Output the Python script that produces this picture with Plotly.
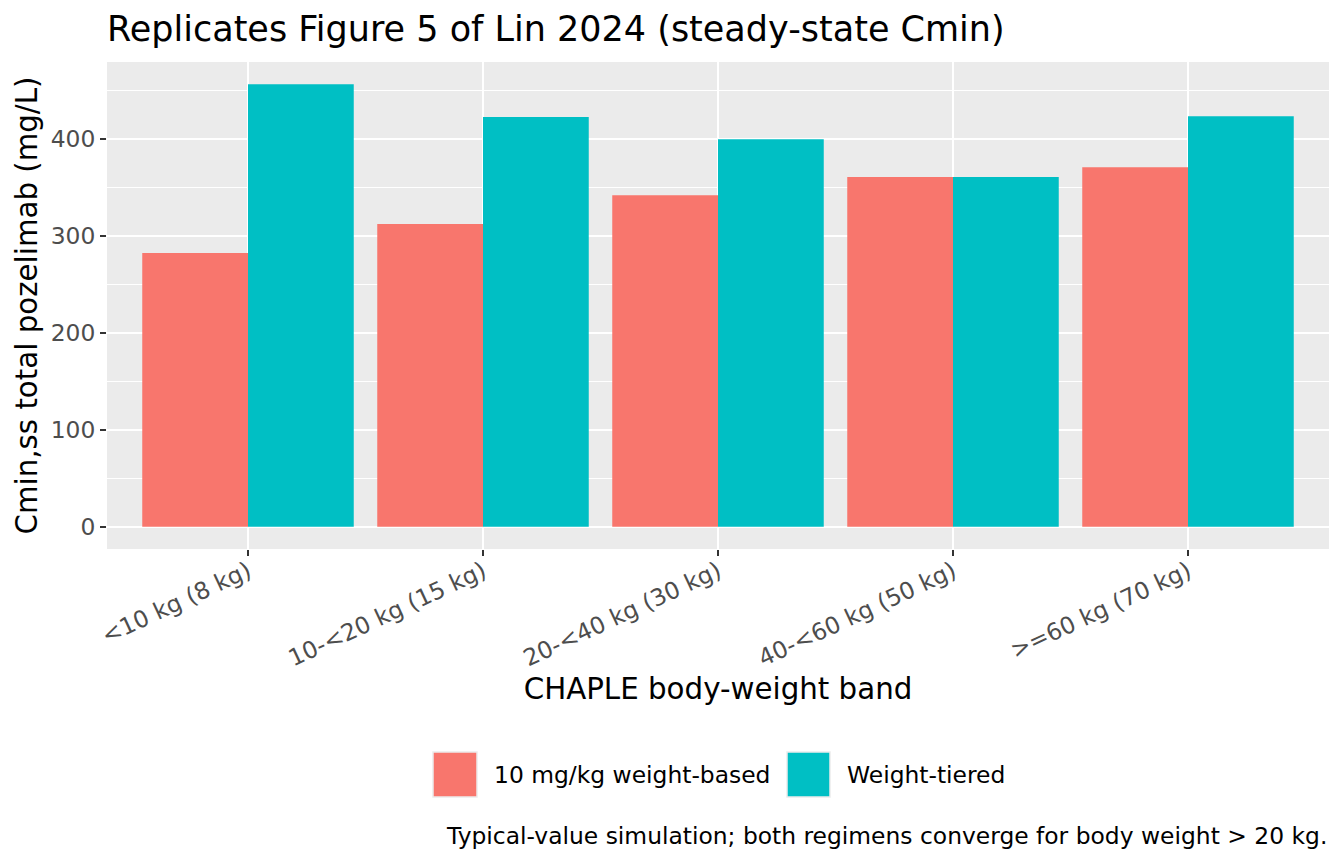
import plotly.graph_objects as go

categories = ["<10 kg (8 kg)", "10-<20 kg (15 kg)", "20-<40 kg (30 kg)", "40-<60 kg (50 kg)", ">=60 kg (70 kg)"]
series_names = ["10 mg/kg weight-based", "Weight-tiered"]
weight_based = [282.5, 312.2, 342.0, 360.7, 370.8]
weight_tiered = [456.5, 422.5, 399.7, 360.7, 423.5]
colors = ["#F8766D", "#00BFC4"]

W, H = 1344, 864
OFF = 8  # page body margin offset
L, R, T, B = 107 - OFF, 1329 - OFF, 62 - OFF, 549 - OFF

def px(x):
    return (x - OFF - L) / (R - L)

def py(y):
    return (B - (y - OFF)) / (B - T)

font_family = "DejaVu Sans"
TICK_FS = 23.4
AXT_FS = 29.3
TITLE_FS = 35

fig = go.Figure()
for name, vals, col in zip(series_names, [weight_based, weight_tiered], colors):
    fig.add_trace(go.Bar(x=categories, y=vals, name=name, marker=dict(color=col, line=dict(width=0)),
                         showlegend=False))

ymax = max(weight_based + weight_tiered)
pad = ymax * 0.05

fig.update_layout(
    width=W, height=H,
    margin=dict(l=L, r=W - R, t=T, b=H - B, pad=0),
    paper_bgcolor="white",
    plot_bgcolor="#EBEBEB",
    barmode="group", bargap=0.1, bargroupgap=0,
    font=dict(family=font_family, color="#000000"),
    title=dict(text="Replicates Figure 5 of Lin 2024 (steady-state Cmin)", x=0, xref="paper",
               xanchor="left", y=1 - (29 - OFF) / H, yref="container", yanchor="middle",
               font=dict(size=TITLE_FS, color="#000000", family=font_family)),
    xaxis=dict(type="category", range=[-0.6, 4.6], showgrid=True, gridcolor="white", gridwidth=2.2,
               ticks="outside", ticklen=6, tickwidth=2.2, tickcolor="#333333", tickangle=-25,
               ticklabelstandoff=-7,
               tickfont=dict(size=TICK_FS, color="#4D4D4D"), zeroline=False,
               title=dict(text="CHAPLE body-weight band", font=dict(size=AXT_FS, color="#000000"), standoff=2)),
    yaxis=dict(range=[-pad, ymax + pad], dtick=100, tick0=0, showgrid=True, gridcolor="white", gridwidth=2.2,
               minor=dict(dtick=50, showgrid=True, gridcolor="white", gridwidth=1.1),
               ticks="outside", ticklen=6, tickwidth=2.2, tickcolor="#333333",
               tickfont=dict(size=TICK_FS, color="#4D4D4D"), zeroline=False,
               title=dict(text="Cmin,ss total pozelimab (mg/L)", font=dict(size=AXT_FS, color="#000000"), standoff=4)),
)

# Legend (drawn manually to match ggplot key boxes)
shapes = []
annotations = []
keys = [(433, 477, series_names[0], colors[0]), (787, 830, series_names[1], colors[1])]
for x0, x1, label, col in keys:
    shapes.append(dict(type="rect", xref="paper", yref="paper", x0=px(x0), x1=px(x1), y0=py(797), y1=py(752),
                       fillcolor=col, line=dict(color="#EBEBEB", width=1.5), layer="above"))
    annotations.append(dict(text=label, xref="paper", yref="paper", x=px(x1 + 15), y=py(775),
                            xanchor="left", yanchor="middle", showarrow=False,
                            font=dict(size=TICK_FS, color="#000000", family=font_family)))

annotations.append(dict(text="Typical-value simulation; both regimens converge for body weight > 20 kg.",
                        xref="paper", yref="paper", x=px(1329), y=py(836), xanchor="right", yanchor="middle",
                        showarrow=False, font=dict(size=TICK_FS, color="#000000", family=font_family)))

fig.update_layout(shapes=shapes, annotations=annotations)

fig.write_html("out.html")
